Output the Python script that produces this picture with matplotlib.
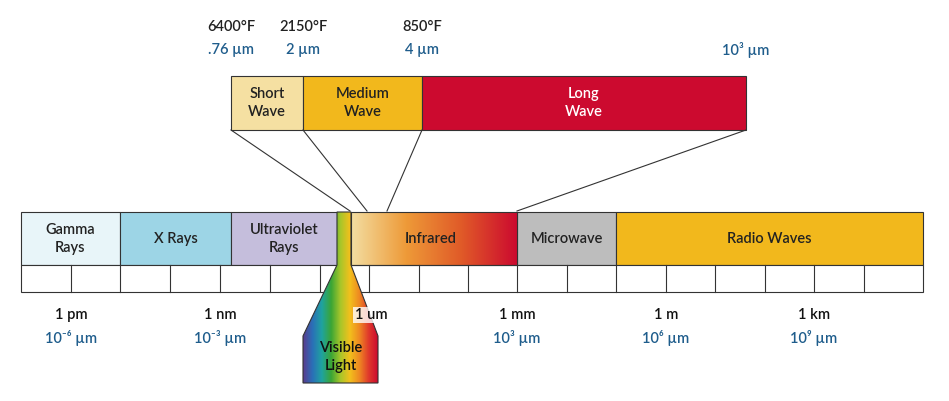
import matplotlib
matplotlib.use("Agg")
import matplotlib.pyplot as plt
import numpy as np
from matplotlib.patches import Rectangle, Polygon
from matplotlib.colors import LinearSegmentedColormap

plt.rcParams['font.family'] = ['Lato', 'DejaVu Sans']
plt.rcParams['font.weight'] = 'semibold'

band_names = ["Gamma\nRays", "X Rays", "Ultraviolet\nRays", "", "Infrared", "Microwave", "Radio Waves"]
band_edges = [21, 120, 231, 337, 351, 517, 616, 923]
band_colors = ["#e8f5f9", "#9dd5e6", "#c5bedc", None, None, "#bdbdbd", "#f2b81c"]

top_names = ["Short\nWave", "Medium\nWave", "Long\nWave"]
top_edges = [231, 303, 422, 746]
top_colors = ["#f5e0a2", "#f2b81c", "#cc0a2f"]
top_text = ["#222", "#222", "white"]

temps = ["6400°F", "2150°F", "850°F", ""]
top_um = [".76 µm", "2 µm", "4 µm", "10³ µm"]

scale_names = ["1 pm", "1 nm", "1 um", "1 mm", "1 m", "1 km"]
scale_um = ["10⁻⁶ µm", "10⁻³ µm", "", "10³ µm", "10⁶ µm", "10⁹ µm"]
scale_x = [71, 220, 371, 517, 666, 814]
tick_lines = [71, 120, 170, 220, 270, 320, 369, 419, 468, 517, 567, 616, 666, 715, 765, 814, 864]

blue = "#1f5d8c"
FS = 10.5
fig = plt.figure(figsize=(9.49, 4.01), dpi=100)
ax = fig.add_axes([0, 0, 1, 1])
ax.set_xlim(0, 949); ax.set_ylim(401, 0); ax.axis("off")

for i, n in enumerate(top_names):
    x0, x1 = top_edges[i], top_edges[i+1]
    ax.add_patch(Rectangle((x0, 76), x1-x0, 54, fc=top_colors[i], ec="#333", lw=0.8))
    ax.text((x0+x1)/2, 103, n, ha="center", va="center", fontsize=FS, color=top_text[i], linespacing=1.3)
for i, x in enumerate(top_edges):
    if temps[i]:
        ax.text(x, 27, temps[i], ha="center", va="center", fontsize=FS, color="#222")
    ax.text(x, 50, top_um[i], ha="center", va="center", fontsize=FS, color=blue)

for (xa, xb) in [(231, 350), (303, 367), (422, 387), (746, 517)]:
    ax.plot([xa, xb], [130, 211], color="#333", lw=0.8)

for i, n in enumerate(band_names):
    x0, x1 = band_edges[i], band_edges[i+1]
    if band_colors[i] is not None:
        ax.add_patch(Rectangle((x0, 212), x1-x0, 53, fc=band_colors[i], ec="#333", lw=0.8))
        ax.text((x0+x1)/2, 239, n, ha="center", va="center", fontsize=FS, color="#222", linespacing=1.3)

ir = LinearSegmentedColormap.from_list("ir", ["#f3dea2", "#ee9a38", "#e05a28", "#cc0a2f"])
ax.imshow(np.linspace(0, 1, 256)[None, :], cmap=ir, extent=(351, 517, 265, 212), aspect="auto", zorder=1)
ax.add_patch(Rectangle((351, 212), 166, 53, fc="none", ec="#333", lw=0.8, zorder=2))
ax.text(431, 239, band_names[4], ha="center", va="center", fontsize=FS, color="#222", zorder=3)

ax.add_patch(Rectangle((21, 265), 902, 27, fc="white", ec="#333", lw=0.8))
for x in tick_lines:
    ax.plot([x, x], [265, 292], color="#333", lw=0.8)

rain = LinearSegmentedColormap.from_list("rain", ["#5a3c8e", "#2a6fb8", "#1fa3a0", "#3aa535", "#a8c62a", "#f2c01c", "#ee8a22", "#e03a2c", "#cc0a2f"])
vis = Polygon([(337, 212), (351, 212), (351, 265), (378, 336), (378, 383), (303, 383), (303, 336), (337, 265)],
              closed=True, fc="none", ec="#333", lw=0.8, zorder=5)
ax.add_patch(vis)
im = ax.imshow(np.linspace(0, 1, 256)[None, :], cmap=rain, extent=(303, 378, 383, 212), aspect="auto", zorder=4)
im.set_clip_path(vis)
ax.text(341, 357, "Visible\nLight", ha="center", va="center", fontsize=FS, color="#111", zorder=6, linespacing=1.3)

for i, n in enumerate(scale_names):
    if n == "1 um":
        ax.text(scale_x[i], 315, n, ha="center", va="center", fontsize=FS, color="#111", zorder=7,
                bbox=dict(fc="white", ec="none", alpha=0.8, pad=1))
    else:
        ax.text(scale_x[i], 315, n, ha="center", va="center", fontsize=FS, color="#111")
    if scale_um[i]:
        ax.text(scale_x[i], 338, scale_um[i], ha="center", va="center", fontsize=FS, color=blue)

fig.savefig("out.png", dpi=100)
